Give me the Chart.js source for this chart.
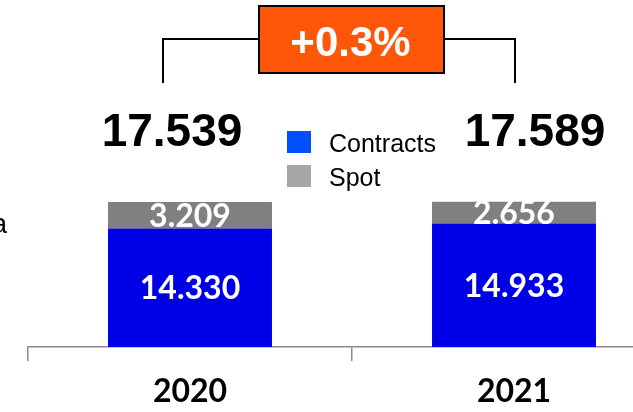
<!DOCTYPE html>
<html>
<head>
<meta charset="utf-8">
<script src="https://cdn.jsdelivr.net/npm/chart.js@4"></script>
<style>
  html, body { margin: 0; padding: 0; background: #fff; overflow: hidden; }
  #wrap { width: 680px; height: 412px; position: relative; }
</style>
</head>
<body>
<div id="wrap"><canvas id="volumeChart"></canvas></div>
<script>
// volumes by year, contracts vs spot
const years = ["2020", "2021"];
const contracts = [14.330, 14.933];
const spot = [3.209, 2.656];
const totals = [17.539, 17.589];

const barBlue = "#0000E6";
const barGray = "#808080";
const legendBlue = "#0050FF";
const legendGray = "#A6A6A6";

const fmt = v => v.toFixed(3);

// --------------------
// labels, totals, bracket, legend
// --------------------
const overlay = {
    id: "overlay",
    afterDatasetsDraw(chart) {
        const ctx = chart.ctx;
        ctx.save();

        // values inside each segment
        ctx.fillStyle = "#fff";
        ctx.font = "bold 32px Lato, 'Open Sans', sans-serif";
        ctx.textAlign = "center";
        ctx.textBaseline = "middle";
        chart.data.datasets.forEach((ds, i) => {
            chart.getDatasetMeta(i).data.forEach((bar, j) => {
                const y = (bar.y + bar.base) / 2 + 1;
                ctx.fillText(fmt(ds.data[j]), bar.x, y);
            });
        });

        // totals above bars
        const tops = chart.getDatasetMeta(1).data;
        const shift = [-18, 21];
        ctx.fillStyle = "#000";
        ctx.font = "bold 46px 'Liberation Sans', Arial, sans-serif";
        ctx.textBaseline = "alphabetic";
        tops.forEach((bar, j) => {
            ctx.fillText(fmt(totals[j]), bar.x + shift[j], bar.y - 56);
        });

        // bracket with change box
        const xl = tops[0].x - 27, xr = tops[1].x + 1;
        ctx.strokeStyle = "#000";
        ctx.lineWidth = 2;
        ctx.beginPath();
        ctx.moveTo(xl, 83); ctx.lineTo(xl, 39); ctx.lineTo(xr, 39); ctx.lineTo(xr, 83);
        ctx.stroke();

        const change = (totals[1] / totals[0] - 1) * 100;
        const boxL = 259, boxR = 444, boxT = 6, boxB = 73;
        ctx.fillStyle = "#FF570A";
        ctx.fillRect(boxL, boxT, boxR - boxL, boxB - boxT);
        ctx.strokeRect(boxL, boxT, boxR - boxL, boxB - boxT);
        ctx.fillStyle = "#fff";
        ctx.font = "bold 42px 'Liberation Sans', Arial, sans-serif";
        ctx.textAlign = "center";
        ctx.fillText((change >= 0 ? "+" : "") + change.toFixed(1) + "%", (boxL + boxR) / 2 - 1, 56);

        // legend
        const legendColors = [legendBlue, legendGray];
        ctx.font = "25px 'Liberation Sans', Arial, sans-serif";
        ctx.textAlign = "left";
        chart.data.datasets.forEach((ds, i) => {
            const cy = 142 + i * 34;
            ctx.fillStyle = legendColors[i];
            ctx.fillRect(287, cy - 11, 24, 22);
            ctx.fillStyle = "#000";
            ctx.fillText(ds.label, 329, cy + 10);
        });

        // stray clipped text at left edge
        ctx.font = "27px 'Liberation Sans', Arial, sans-serif";
        ctx.textAlign = "right";
        ctx.fillText("a", 7, 233);

        ctx.restore();
    }
};

new Chart(document.getElementById("volumeChart"), {
    type: "bar",
    data: {
        labels: years,
        datasets: [
            {
                label: "Contracts",
                data: contracts,
                backgroundColor: barBlue,
                barPercentage: 0.506,
                categoryPercentage: 1
            },
            {
                label: "Spot",
                data: spot,
                backgroundColor: barGray,
                barPercentage: 0.506,
                categoryPercentage: 1
            }
        ]
    },
    options: {
        responsive: true,
        maintainAspectRatio: false,
        animation: false,
        layout: { padding: { left: 28, right: 4, top: 0, bottom: 0 } },
        plugins: {
            legend: { display: false },
            tooltip: { enabled: false }
        },
        scales: {
            x: {
                stacked: true,
                afterFit: scale => { scale.height = 65; },
                grid: {
                    display: true,
                    drawOnChartArea: false,
                    drawTicks: true,
                    tickLength: 14,
                    color: "#8C8C8C",
                    lineWidth: 1.5
                },
                border: { display: true, color: "#8C8C8C", width: 1.5 },
                ticks: {
                    color: "#000",
                    padding: 11,
                    font: { family: "Lato, 'Open Sans', sans-serif", size: 32, weight: "bold" }
                }
            },
            y: {
                stacked: true,
                display: false,
                min: 0,
                max: 42
            }
        }
    },
    plugins: [overlay]
});
</script>
</body>
</html>
